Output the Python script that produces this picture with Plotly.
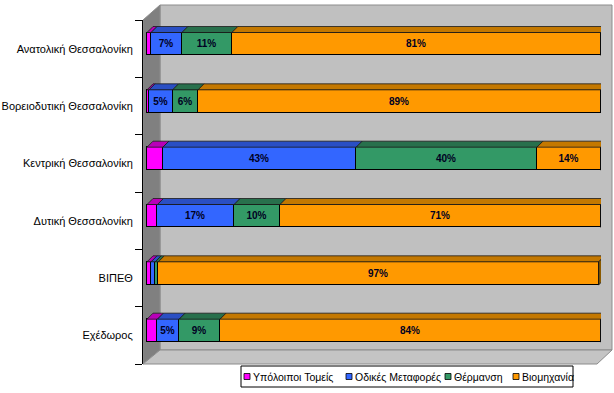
import plotly.graph_objects as go

# ---------------- data ----------------
categories = ["Ανατολική Θεσσαλονίκη", "Βορειοδυτική Θεσσαλονίκη", "Κεντρική Θεσσαλονίκη",
              "Δυτική Θεσσαλονίκη", "ΒΙΠΕΘ", "Εχέδωρος"]
series_names = ["Υπόλοιποι Τομείς", "Οδικές Μεταφορές", "Θέρμανση", "Βιομηχανία"]
other = [0.9, 0.45, 3.5, 2.3, 0.9, 2.3]
road = [6.8, 5.2, 42.6, 16.9, 0.9, 4.8]
heating = [11.0, 5.6, 39.8, 10.1, 0.7, 9.0]
industry = [81.3, 88.8, 14.1, 70.7, 97.0, 83.9]

# ---------------- style ----------------
W, H = 614, 393
L, R, T, B = 143, 13, 20, 29          # plot area in pixels
FONT = "Liberation Sans, Arial, sans-serif"
colors = ["#FF00FF", "#3366FF", "#339966", "#FF9900"]
top_colors = ["#B800B8", "#2A4FC4", "#28704C", "#C47800"]
side_color = "#8A5A00"
XMIN, XMAX = -0.881, 100.0
BAR_W = 0.401
BAR_OFF = -0.282
plot_w = W - L - R
plot_h = H - T - B
DX = 6 * (XMAX - XMIN) / plot_w      # depth in x data units
DY = 6 * 6.0 / plot_h                # depth in y (category) units


def px(xp):
    return (xp - L) / plot_w


def py(yp):
    return (H - B - yp) / plot_h


ypos = list(range(len(categories)))
boundaries = [p - 0.5 for p in ypos] + [ypos[-1] + 0.5]

series = [other, road, heating, industry]
fig = go.Figure()
for name, vals, col in zip(series_names, series, colors):
    fig.add_trace(go.Bar(
        name=name, y=ypos, x=vals, orientation="h",
        width=BAR_W, offset=BAR_OFF,
        marker=dict(color=col, line=dict(color="#000000", width=1)),
        text=[f"{v:.0f}%" if round(v) >= 5 else "" for v in vals],
        textposition="inside", insidetextanchor="middle", textangle=0,
        constraintext="none",
        textfont=dict(family=FONT, size=10, color="#000022", weight="bold"),
        customdata=categories,
        hovertemplate="%{customdata}<br>" + name + ": %{x}%<extra></extra>",
        showlegend=False,
    ))

shapes = []
# ---- 3D walls (decoration) ----
wall_line = dict(color="#8C8C8C", width=1)
shapes.append(dict(type="path", xref="paper", yref="paper", layer="below",
                   path=f"M{px(160)},{py(5)} L{px(612)},{py(5)} L{px(612)},{py(350)} L{px(160)},{py(350)} Z",
                   fillcolor="#C0C0C0", line=wall_line))
shapes.append(dict(type="path", xref="paper", yref="paper", layer="below",
                   path=f"M{px(143)},{py(20)} L{px(160)},{py(5)} L{px(160)},{py(350)} L{px(143)},{py(364)} Z",
                   fillcolor="#808080", line=wall_line))
shapes.append(dict(type="path", xref="paper", yref="paper", layer="below",
                   path=f"M{px(143)},{py(364)} L{px(160)},{py(350)} L{px(612)},{py(350)} L{px(597)},{py(364)} Z",
                   fillcolor="#C4C4C4", line=wall_line))

# ---- 3D faces of the bars, derived from the data ----
for i in ypos:
    ytop = i + BAR_OFF
    ybot = ytop + BAR_W
    start = 0.0
    for s, vals in enumerate(series):
        v = vals[i]
        x0, x1 = start, start + v
        shapes.append(dict(type="path", xref="x", yref="y",
                           path=f"M{x0},{ytop} L{x1},{ytop} L{x1 + DX},{ytop - DY} L{x0 + DX},{ytop - DY} Z",
                           fillcolor=top_colors[s], line=dict(color="#1a1a1a", width=0.8)))
        start = x1
    shapes.append(dict(type="path", xref="x", yref="y",
                       path=f"M{start},{ytop} L{start + DX},{ytop - DY} L{start + DX},{ybot - DY} L{start},{ybot} Z",
                       fillcolor=side_color, line=dict(color="#1a1a1a", width=0.8)))

# ---- legend (manual, to match compact look) ----
annotations = []
shapes.append(dict(type="rect", xref="paper", yref="paper",
                   x0=px(241), x1=px(573), y0=py(366), y1=py(387),
                   fillcolor="#FFFFFF", line=dict(color="#000000", width=1)))
leg_sq = [244, 346, 445, 513]
for name, col, xs in zip(series_names, colors, leg_sq):
    shapes.append(dict(type="rect", xref="paper", yref="paper",
                       x0=px(xs), x1=px(xs + 6), y0=py(373.5), y1=py(379.5),
                       fillcolor=col, line=dict(color="#000000", width=0.8)))
    annotations.append(dict(xref="paper", yref="paper", x=px(xs + 7), y=py(376.5),
                            xanchor="left", yanchor="middle", showarrow=False,
                            text=name, font=dict(family=FONT, size=10.5, color="#000000")))

fig.update_layout(
    width=W, height=H, autosize=False,
    margin=dict(l=L, r=R, t=T, b=B, pad=0),
    paper_bgcolor="#FFFFFF", plot_bgcolor="rgba(0,0,0,0)",
    barmode="stack", bargap=0,
    font=dict(family=FONT, size=11, color="#000000"),
    xaxis=dict(range=[XMIN, XMAX], visible=False, fixedrange=True, automargin=False),
    yaxis=dict(range=[boundaries[-1], boundaries[0]], tickmode="array",
               tickvals=ypos, ticktext=categories,
               ticks="outside", ticklen=7, tickcolor="rgba(0,0,0,0)", tickwidth=1,
               minor=dict(tickmode="array", tickvals=boundaries, ticks="outside",
                          ticklen=7, tickcolor="#000000", tickwidth=1, showgrid=False),
               showline=True, linecolor="#000000", linewidth=1,
               showgrid=False, zeroline=False, automargin=False, fixedrange=True,
               tickfont=dict(family=FONT, size=11, color="#000000")),
    shapes=shapes, annotations=annotations,
)

fig.write_html("out.html", config={"displayModeBar": False},
               post_script="document.body.style.margin='0';")
